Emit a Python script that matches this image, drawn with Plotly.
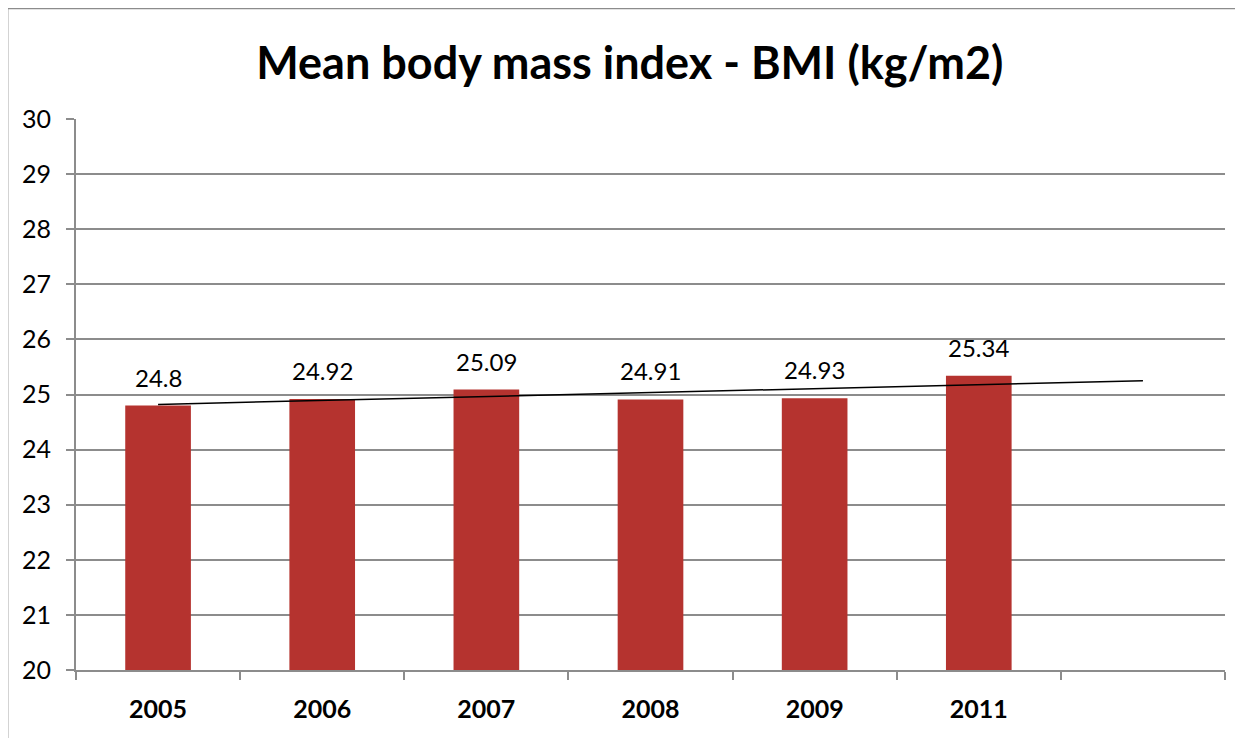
import plotly.graph_objects as go

# data
years = ["2005", "2006", "2007", "2008", "2009", "2011"]
bmi = [24.8, 24.92, 25.09, 24.91, 24.93, 25.34]

# linear trendline endpoints (first category to the empty 7th slot)
trend_x = [0, 6]
trend_y = [24.82, 25.25]

pos = list(range(len(years)))
boundaries = [p - 0.5 for p in range(len(years) + 2)]
FONT = "Lato, Carlito, sans-serif"

fig = go.Figure()

fig.add_trace(go.Bar(
    x=pos,
    y=[v - 20 for v in bmi],
    base=20,
    width=0.4,
    marker=dict(color="#b5332f", line=dict(width=0)),
    hoverinfo="skip",
))

fig.add_trace(go.Scatter(
    x=trend_x,
    y=trend_y,
    mode="lines",
    line=dict(color="#000000", width=1.5),
    hoverinfo="skip",
))

# value labels above bars
for p, v in zip(pos, bmi):
    fig.add_annotation(
        x=p, y=v, text=f"{v:g}",
        showarrow=False, yanchor="bottom", yshift=12,
        font=dict(size=24, color="#000000", family=FONT),
    )

fig.update_layout(
    width=1235,
    height=730,
    paper_bgcolor="white",
    plot_bgcolor="white",
    showlegend=False,
    margin=dict(l=68, r=18, t=111, b=68),
    title=dict(
        text="<b>Mean body mass index - BMI (kg/m2)</b>",
        x=0.482, xref="paper", xanchor="center",
        y=0.925, yanchor="middle",
        font=dict(size=45, color="#000000", family=FONT),
    ),
    font=dict(family=FONT, color="#000000"),
    shapes=[dict(
        type="rect", xref="paper", yref="paper",
        x0=-0.0595, x1=1.1, y0=-0.3, y1=1.2005,
        line=dict(color="#8c8c8c", width=1.5),
        layer="below",
    )],
)

fig.update_xaxes(
    range=[-0.5, 6.5],
    tickmode="array",
    tickvals=pos,
    ticktext=[f"<b>{y}</b>" for y in years],
    ticks="",
    tickfont=dict(size=25),
    ticklabelstandoff=16,
    showline=True,
    linecolor="#8c8c8c",
    linewidth=1.8,
    showgrid=False,
    zeroline=False,
    minor=dict(
        tickmode="array",
        tickvals=boundaries,
        ticks="outside",
        ticklen=8,
        tickcolor="#8c8c8c",
        tickwidth=1.8,
        showgrid=False,
    ),
)

fig.update_yaxes(
    range=[20, 30],
    dtick=1,
    ticks="outside",
    ticklen=8,
    tickcolor="#8c8c8c",
    tickwidth=1.8,
    tickfont=dict(size=25),
    showline=True,
    linecolor="#8c8c8c",
    linewidth=1.8,
    showgrid=True,
    gridcolor="#8c8c8c",
    gridwidth=1.8,
    zeroline=False,
    ticklabelstandoff=10,
)

fig.write_html("out.html")
